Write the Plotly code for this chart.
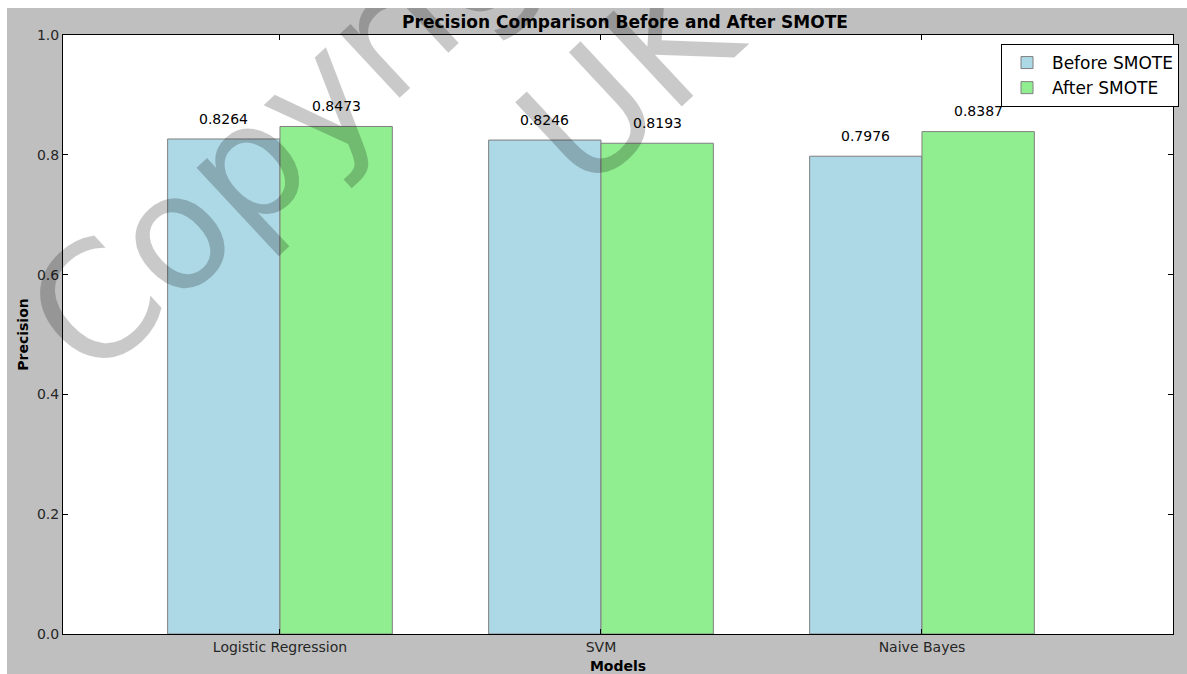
import plotly.graph_objects as go

models = ["Logistic Regression", "SVM", "Naive Bayes"]
before_smote = [0.8264, 0.8246, 0.7976]
after_smote = [0.8473, 0.8193, 0.8387]
y_ticks = [0.0, 0.2, 0.4, 0.6, 0.8, 1.0]

bar_w = 0.35
pos = list(range(len(models)))
x_before = [p - bar_w / 2 for p in pos]
x_after = [p + bar_w / 2 for p in pos]

FONT = "DejaVu Sans"
OFFX, OFFY = 7, 8          # page offset of the figure (white border in the reference)
W, H = 1187 - OFFX, 674 - OFFY
L, R, T, B = 56, 14, 27, 40
pw, ph = W - L - R, H - T - B


def px_to_paper(wx, wy):
    fx, fy = wx - OFFX, wy - OFFY
    return (fx - L) / pw, (H - B - fy) / ph


fig = go.Figure()
fig.add_trace(go.Bar(x=x_before, y=before_smote, width=bar_w, name="Before SMOTE",
                     marker=dict(color="#ADD8E6", line=dict(color="#7f7f7f", width=1))))
fig.add_trace(go.Bar(x=x_after, y=after_smote, width=bar_w, name="After SMOTE",
                     marker=dict(color="#90EE90", line=dict(color="#7f7f7f", width=1))))

ann = []
for xs, ys in ((x_before, before_smote), (x_after, after_smote)):
    for xv, yv in zip(xs, ys):
        ann.append(dict(x=xv, y=yv + 0.017, xref="x", yref="y", text=f"{yv:.4f}",
                        showarrow=False, yanchor="bottom", xanchor="center",
                        font=dict(family=FONT, size=14, color="#000000")))

# watermark (window pixel positions of text centres)
wm_col = "rgba(0,0,0,0.21)"
for txt, (wx, wy) in (("Copyright", (340, 77)), ("UK", (629, 79))):
    xp, yp = px_to_paper(wx, wy)
    ann.append(dict(x=xp, y=yp, xref="paper", yref="paper", text=txt, showarrow=False,
                    textangle=-43, xanchor="center", yanchor="middle",
                    font=dict(family=FONT, size=160, color=wm_col)))

lx, ly = px_to_paper(1179, 44)

fig.update_layout(
    width=W, height=H,
    margin=dict(l=L, r=R, t=T, b=B, autoexpand=False),
    paper_bgcolor="#bfbfbf", plot_bgcolor="white",
    barmode="overlay",
    font=dict(family=FONT, size=14, color="#262626"),
    title=dict(text="<b>Precision Comparison Before and After SMOTE</b>", x=(625 - OFFX) / W,
               xanchor="center", y=1 - (22 - OFFY) / H, yanchor="middle", yref="container",
               font=dict(family=FONT, size=17, color="#000000")),
    xaxis=dict(range=[-0.676, 2.782], tickmode="array", tickvals=pos, ticktext=models,
               ticks="inside", ticklen=5, tickcolor="#000", showline=True, linecolor="#000",
               linewidth=1, mirror="ticks", showgrid=False, zeroline=False, automargin=False,
               title=dict(text="<b>Models</b>", font=dict(family=FONT, size=14, color="#000"), standoff=7)),
    yaxis=dict(range=[0, 1], tickmode="array", tickvals=y_ticks,
               ticktext=[f"{v:.1f}" for v in y_ticks],
               ticks="inside", ticklen=5, tickcolor="#000", showline=True, linecolor="#000",
               linewidth=1, mirror="ticks", showgrid=False, zeroline=False, automargin=False,
               title=dict(text="<b>Precision</b>", font=dict(family=FONT, size=14, color="#000"), standoff=5)),
    legend=dict(x=lx, y=ly, xanchor="right", yanchor="top",
                bgcolor="white", bordercolor="#000", borderwidth=1,
                font=dict(family=FONT, size=17, color="#000"), itemwidth=40),
    annotations=ann,
    showlegend=True,
)

fig.write_html(
    "out.html",
    config={"displayModeBar": False},
    post_script=f"document.body.style.margin='{OFFY}px 0 0 {OFFX}px';document.body.style.overflow='hidden';",
)
